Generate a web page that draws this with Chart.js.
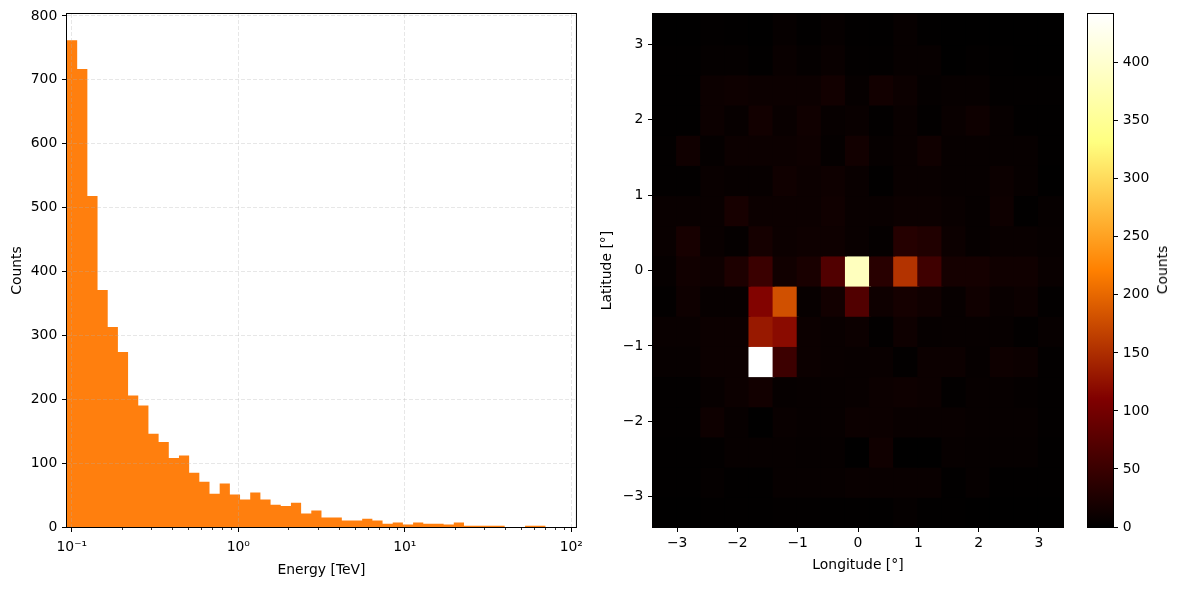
<!DOCTYPE html>
<html lang="en">

<head>
    <meta charset="UTF-8" />
    <title>Energy histogram and counts map</title>
    <script src="https://cdn.jsdelivr.net/npm/chart.js"></script>
    <style>
        body {
            margin: 0;
            width: 1179px;
            height: 589px;
            background: #fff;
            position: relative;
            overflow: hidden;
            font-family: 'DejaVu Sans', sans-serif;
        }

        canvas {
            position: absolute;
            top: 0;
        }

        #histChart { left: 0; }
        #mapChart { left: 595px; }
        #cbarChart { left: 1075px; }

        .cbar-label {
            position: absolute;
            left: 1162px;
            top: 270px;
            transform: translate(-50%, -50%) rotate(-90deg);
            font-size: 13.9px;
            color: #000;
            white-space: nowrap;
        }
    </style>
</head>

<body>
    <canvas id="histChart" width="590" height="589"></canvas>
    <canvas id="mapChart" width="480" height="589"></canvas>
    <canvas id="cbarChart" width="104" height="589"></canvas>
    <div class="cbar-label">Counts</div>

    <script>
        // ---- energy histogram ----
        const E_MIN = 0.0936;
        const E_MAX = 106.7;
        const N_BINS = 50;
        const HIST_COUNTS = [762, 717, 518, 371, 313, 274, 206, 190, 146, 133,
            108, 112, 85, 71, 52, 68, 51, 43, 54, 43,
            35, 33, 38, 21, 26, 15, 15, 10, 10, 13,
            10, 5, 7, 4, 7, 5, 5, 4, 7, 2,
            2, 2, 2, 0, 0, 2, 2, 0, 0, 0];
        const HIST_Y_TICKS = [0, 100, 200, 300, 400, 500, 600, 700, 800];
        const E_TICKS = [0.1, 1, 10, 100];
        const E_TICK_LABELS = ['10⁻¹', '10⁰', '10¹', '10²'];

        // ---- counts map (rows from lat 3.2 at top down to lat -3.2) ----
        const LON_EDGES = [-3.4, -3.0, -2.6, -2.2, -1.8, -1.4, -1.0, -0.6, -0.2, 0.2, 0.6, 1.0, 1.4, 1.8, 2.2, 2.6, 3.0, 3.4];
        const LAT_EDGES = [3.4, 3.0, 2.6, 2.2, 1.8, 1.4, 1.0, 0.6, 0.2, -0.2, -0.6, -1.0, -1.4, -1.8, -2.2, -2.6, -3.0, -3.4];
        const MAP_COUNTS = [
            [1, 1, 3, 2, 1, 5, 2, 5, 2, 2, 6, 2, 1, 1, 1, 1, 1],
            [2, 2, 4, 4, 2, 8, 4, 8, 3, 3, 6, 6, 1, 3, 2, 1, 1],
            [2, 2, 10, 12, 10, 10, 10, 16, 5, 16, 10, 4, 6, 6, 3, 3, 3],
            [2, 2, 10, 6, 16, 8, 14, 6, 8, 3, 8, 3, 8, 12, 6, 2, 2],
            [3, 14, 4, 10, 10, 10, 12, 4, 16, 5, 8, 14, 6, 6, 6, 6, 2],
            [3, 3, 8, 6, 6, 14, 10, 12, 8, 2, 8, 8, 6, 6, 10, 6, 1],
            [8, 8, 8, 20, 10, 10, 10, 14, 8, 8, 10, 10, 8, 5, 12, 2, 5],
            [8, 20, 8, 4, 18, 10, 12, 12, 8, 4, 32, 28, 10, 5, 8, 8, 6],
            [5, 15, 12, 25, 50, 15, 22, 70, 386, 35, 155, 55, 18, 18, 14, 14, 8],
            [3, 12, 6, 6, 113, 180, 6, 16, 70, 12, 18, 14, 6, 14, 8, 10, 3],
            [8, 8, 10, 10, 132, 120, 10, 8, 10, 3, 12, 5, 6, 6, 6, 3, 6],
            [6, 6, 10, 10, 442, 52, 10, 8, 7, 8, 3, 10, 10, 5, 12, 10, 3],
            [3, 3, 6, 10, 16, 5, 6, 6, 7, 10, 12, 10, 3, 6, 6, 4, 3],
            [3, 3, 12, 6, 1, 8, 6, 6, 10, 10, 8, 8, 8, 6, 6, 6, 3],
            [2, 2, 3, 6, 6, 6, 5, 5, 1, 14, 1, 1, 6, 5, 5, 5, 2],
            [2, 2, 4, 2, 2, 6, 6, 6, 8, 8, 8, 8, 2, 5, 2, 2, 2],
            [1, 1, 2, 2, 2, 3, 3, 2, 2, 2, 4, 2, 2, 1, 1, 1, 1]
        ];
        const LON_TICKS = [-3, -2, -1, 0, 1, 2, 3];
        const LAT_TICKS = [-3, -2, -1, 0, 1, 2, 3];
        const CBAR_TICKS = [0, 50, 100, 150, 200, 250, 300, 350, 400];
        const CBAR_STOPS = [0, 0.25, 0.5, 0.75, 1];

        const VMAX = Math.max(...MAP_COUNTS.flat());

        Chart.defaults.font.family = "'DejaVu Sans', sans-serif";
        Chart.defaults.font.size = 13.9;
        Chart.defaults.color = '#000';

        // afmhot colormap
        function afmhot(t) {
            t = Math.max(0, Math.min(1, t));
            const r = Math.min(1, 2 * t);
            const g = Math.max(0, Math.min(1, 2 * t - 0.5));
            const b = Math.max(0, Math.min(1, 2 * t - 1));
            return `rgb(${Math.round(r * 255)},${Math.round(g * 255)},${Math.round(b * 255)})`;
        }

        const minus = v => (v < 0 ? '\u2212' + Math.abs(v) : String(v));

        // black box around each plot area
        const frame = {
            id: 'frame',
            afterDraw(chart) {
                const { ctx, chartArea: a } = chart;
                ctx.save();
                ctx.strokeStyle = '#000';
                ctx.lineWidth = 1;
                ctx.strokeRect(a.left - 0.5, a.top - 0.5, a.right - a.left + 1, a.bottom - a.top + 1);
                ctx.restore();
            }
        };

        // short unlabeled ticks between the decades
        const minorTicks = {
            id: 'minorTicks',
            afterDraw(chart) {
                const x = chart.scales.x;
                const { ctx, chartArea: a } = chart;
                ctx.save();
                ctx.strokeStyle = '#000';
                ctx.lineWidth = 0.8;
                ctx.beginPath();
                for (let d = -2; d <= 2; d++) {
                    for (let k = 2; k <= 9; k++) {
                        const v = k * Math.pow(10, d);
                        if (v < x.min || v > x.max) continue;
                        const px = Math.round(x.getPixelForValue(v)) + 0.5;
                        ctx.moveTo(px, a.bottom);
                        ctx.lineTo(px, a.bottom + 3);
                    }
                }
                ctx.stroke();
                ctx.restore();
            }
        };

        const setTicks = arr => scale => { scale.ticks = arr.map(v => ({ value: v })); };

        // log-spaced bin edges (like np.logspace between the two limits)
        const HIST_EDGES = [];
        for (let i = 0; i <= N_BINS; i++) {
            HIST_EDGES.push(E_MIN * Math.pow(E_MAX / E_MIN, i / N_BINS));
        }

        const gridHist = {
            color: 'rgba(176,176,176,0.3)',
            lineWidth: 1,
            tickColor: '#000',
            tickWidth: 1,
            tickLength: 5,
            z: 1
        };

        new Chart(document.getElementById('histChart'), {
            type: 'line',
            data: {
                datasets: [{
                    data: HIST_EDGES.map((e, i) => ({ x: e, y: HIST_COUNTS[Math.min(i, N_BINS - 1)] })),
                    stepped: 'before',
                    fill: 'origin',
                    backgroundColor: '#ff7f0e',
                    borderColor: 'rgba(0,0,0,0)',
                    borderWidth: 0,
                    pointRadius: 0
                }]
            },
            options: {
                responsive: false,
                animation: false,
                layout: { padding: { left: 0, top: 14, right: 13, bottom: 0 } },
                plugins: { legend: { display: false }, tooltip: { enabled: false } },
                scales: {
                    x: {
                        type: 'logarithmic',
                        min: E_MIN,
                        max: E_MAX,
                        afterBuildTicks: setTicks(E_TICKS),
                        afterFit: s => { s.height = 62; },
                        ticks: {
                            autoSkip: false,
                            maxRotation: 0,
                            padding: 7,
                            callback: (v, i) => E_TICK_LABELS[i]
                        },
                        grid: gridHist,
                        border: { display: false, dash: [4, 2] },
                        title: { display: true, text: 'Energy [TeV]', padding: { top: 0, bottom: 10.7 } }
                    },
                    y: {
                        min: 0,
                        max: 803,
                        afterBuildTicks: setTicks(HIST_Y_TICKS),
                        afterFit: s => { s.width = 67; },
                        ticks: { padding: 4.7 },
                        grid: gridHist,
                        border: { display: false, dash: [4, 2] },
                        title: { display: true, text: 'Counts', padding: { top: 8.7, bottom: 0 } }
                    }
                }
            },
            plugins: [frame, minorTicks]
        });

        // heatmap cells as floating bars, one dataset per latitude row
        const mapDatasets = MAP_COUNTS.map((row, r) => ({
            data: row.map((v, c) => ({
                x: (LON_EDGES[c] + LON_EDGES[c + 1]) / 2,
                y: [LAT_EDGES[r + 1], LAT_EDGES[r]]
            })),
            backgroundColor: row.map(v => afmhot(v / VMAX)),
            borderWidth: 0,
            inflateAmount: 1,
            grouped: false,
            barPercentage: 1,
            categoryPercentage: 1
        }));

        const gridTicksOnly = {
            drawOnChartArea: false,
            tickColor: '#000',
            tickWidth: 1,
            tickLength: 5,
            offset: false
        };

        new Chart(document.getElementById('mapChart'), {
            type: 'bar',
            data: { datasets: mapDatasets },
            options: {
                responsive: false,
                animation: false,
                layout: { padding: { left: 0, top: 14, right: 12, bottom: 0 } },
                plugins: { legend: { display: false }, tooltip: { enabled: false } },
                scales: {
                    x: {
                        type: 'linear',
                        min: -3.4,
                        max: 3.4,
                        offset: false,
                        afterBuildTicks: setTicks(LON_TICKS),
                        afterFit: s => { s.height = 62; },
                        ticks: { padding: 3, maxRotation: 0, callback: minus },
                        grid: gridTicksOnly,
                        border: { display: false },
                        title: { display: true, text: 'Longitude [°]', padding: { top: 0, bottom: 15.7 } }
                    },
                    y: {
                        type: 'linear',
                        min: -3.4,
                        max: 3.4,
                        afterBuildTicks: setTicks(LAT_TICKS),
                        afterFit: s => { s.width = 58; },
                        ticks: { padding: 4.7, callback: minus },
                        grid: gridTicksOnly,
                        border: { display: false },
                        title: { display: true, text: 'Latitude [°]', padding: { top: 3.7, bottom: 0 } }
                    }
                }
            },
            plugins: [frame]
        });

        // colour bar
        new Chart(document.getElementById('cbarChart'), {
            type: 'bar',
            data: {
                labels: [''],
                datasets: [{
                    data: [[0, VMAX]],
                    backgroundColor: c => {
                        const ch = c.chart;
                        if (!ch.chartArea) return '#000';
                        const y = ch.scales.y;
                        const g = ch.ctx.createLinearGradient(0, y.getPixelForValue(0), 0, y.getPixelForValue(VMAX));
                        CBAR_STOPS.forEach(t => g.addColorStop(t, afmhot(t)));
                        return g;
                    },
                    borderWidth: 0,
                    inflateAmount: 1,
                    barPercentage: 1,
                    categoryPercentage: 1
                }]
            },
            options: {
                responsive: false,
                animation: false,
                layout: { padding: { left: 13, top: 14, right: 0, bottom: 62 } },
                plugins: { legend: { display: false }, tooltip: { enabled: false } },
                scales: {
                    x: { display: false },
                    y: {
                        position: 'right',
                        min: 0,
                        max: VMAX,
                        afterBuildTicks: setTicks(CBAR_TICKS),
                        afterFit: s => { s.width = 66; },
                        ticks: { padding: 4.7 },
                        grid: gridTicksOnly,
                        border: { display: false }
                    }
                }
            },
            plugins: [frame]
        });
    </script>
</body>

</html>
